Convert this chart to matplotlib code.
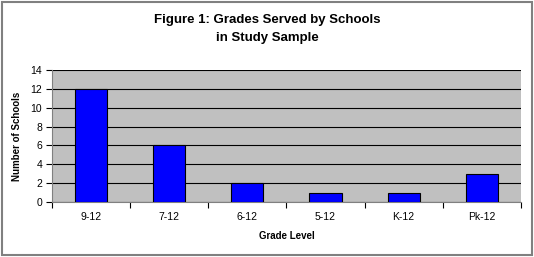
import matplotlib
matplotlib.use("Agg")
import matplotlib.pyplot as plt
from matplotlib.patches import Rectangle

categories = ["9-12", "7-12", "6-12", "5-12", "K-12", "Pk-12"]
schools = [12, 6, 2, 1, 1, 3]
yticks = [0, 2, 4, 6, 8, 10, 12, 14]

plt.rcParams['font.family'] = ['Liberation Sans', 'DejaVu Sans']

fig = plt.figure(figsize=(5.34, 2.57), dpi=100)
fig.patch.set_facecolor('white')
fig.add_artist(Rectangle((0.004, 0.008), 0.992, 0.984, transform=fig.transFigure,
                         fill=False, edgecolor='#808080', linewidth=1.5))

ax = fig.add_axes([0.0974, 0.214, 0.878, 0.514])
ax.set_facecolor('#c0c0c0')
x = list(range(len(categories)))
ax.bar(x, schools, width=0.41, color='#0000ff', edgecolor='black', linewidth=0.8, zorder=3)
ax.set_xlim(-0.5, len(categories) - 0.5)
ax.set_ylim(0, 14)
ax.set_yticks(yticks)
ax.set_yticklabels([str(v) for v in yticks], fontsize=7.5)
ax.yaxis.grid(True, color='black', linewidth=0.8, zorder=0)
ax.set_axisbelow(True)
ax.set_xticks(x)
ax.set_xticklabels(categories, fontsize=7.5)
ax.tick_params(axis='x', length=0, pad=7)
ax.set_xticks([i + 0.5 for i in range(-1, len(categories))], minor=True)
ax.tick_params(axis='x', which='minor', length=4, width=0.8, direction='out')
ax.tick_params(axis='y', length=4, width=0.8, direction='out', pad=3)
for s in ['top', 'right']:
    ax.spines[s].set_visible(False)
ax.spines['left'].set_color('#808080')
ax.spines['bottom'].set_color('#808080')
ax.spines['left'].set_linewidth(0.8)
ax.spines['bottom'].set_linewidth(0.8)

ax.set_xlabel("Grade Level", fontsize=7, fontweight='bold', labelpad=7)
ax.set_ylabel("Number of Schools", fontsize=7, fontweight='bold', labelpad=6)

fig.text(0.5, 0.945, "Figure 1: Grades Served by Schools\nin Study Sample", ha='center', va='top',
         fontsize=9.5, fontweight='bold', linespacing=1.6)

fig.savefig("out.png", dpi=100)
